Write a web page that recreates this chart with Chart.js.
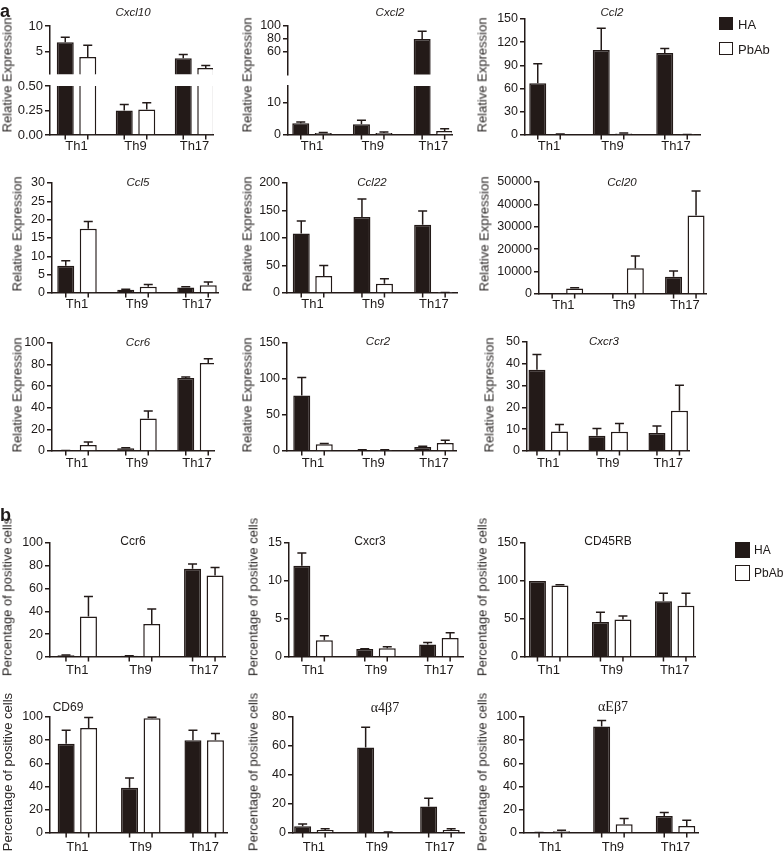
<!DOCTYPE html>
<html><head><meta charset="utf-8">
<script src="https://cdn.jsdelivr.net/npm/chart.js@4/dist/chart.umd.min.js"></script>
<style>
html,body{margin:0;padding:0;background:#fff;}
body{width:784px;height:855px;position:relative;overflow:hidden;font-family:"Liberation Sans",Arial,sans-serif;color:#1e1a19;}
.cv{position:absolute;}
.t{position:absolute;white-space:nowrap;line-height:1;transform:translate(-50%,-50%);}
.yt{position:absolute;white-space:nowrap;line-height:1;font-size:13px;color:#2b2726;transform:translate(-50%,-50%) rotate(-90deg);}
.lb{position:absolute;box-sizing:border-box;border:1.5px solid #231a18;}
.lt{position:absolute;white-space:nowrap;line-height:1;transform:translateY(-50%);}
.letter{position:absolute;font-weight:bold;font-size:18px;line-height:1;}
</style></head><body>
<script>
// ---------- data ----------
const categories = ['Th1', 'Th9', 'Th17'];
const seriesNames = ['HA', 'PbAb'];

const cxcl10HA = [6.8, 0.25, 3.65];
const cxcl10HAErr = [1.0, 0.06, 0.75];
const cxcl10PbAb = [3.9, 0.26, 1.7];
const cxcl10PbAbErr = [2.3, 0.07, 0.5];
const cxcl10TicksHigh = [5, 10];
const cxcl10TicksLow = [0, 0.25, 0.5];

const cxcl2HA = [3.6, 3.3, 80];
const cxcl2HAErr = [0.4, 1.2, 12];
const cxcl2PbAb = [0.6, 0.6, 1.2];
const cxcl2PbAbErr = [0.2, 0.3, 0.7];
const cxcl2TicksHigh = [60, 80, 100];
const cxcl2TicksLow = [0, 5, 10, 15];

const ccl2HA = [67, 110, 106];
const ccl2HAErr = [25, 28, 6];
const ccl2PbAb = [1, 2, 0.5];
const ccl2PbAbErr = [0.3, 0.5, 0.2];
const ccl2Ticks = [0, 30, 60, 90, 120, 150];

const ccl5HA = [7.4, 0.9, 1.5];
const ccl5HAErr = [1.4, 0.1, 0.2];
const ccl5PbAb = [17.5, 1.7, 2.1];
const ccl5PbAbErr = [2.0, 0.6, 0.9];
const ccl5Ticks = [0, 5, 10, 15, 20, 25, 30];

const ccl22HA = [108, 138, 124];
const ccl22HAErr = [23, 33, 25];
const ccl22PbAb = [31, 17, 0.6];
const ccl22PbAbErr = [19, 9, 0.3];
const ccl22Ticks = [0, 50, 100, 150, 200];

const ccl20HA = [40, 40, 7700];
const ccl20HAErr = [0, 0, 2600];
const ccl20PbAb = [2500, 11500, 35000];
const ccl20PbAbErr = [300, 5500, 11000];
const ccl20Ticks = [0, 10000, 20000, 30000, 40000, 50000];

const ccr6aHA = [0.3, 2.5, 67.5];
const ccr6aHAErr = [0.1, 0.5, 1];
const ccr6aPbAb = [5.5, 30, 81.5];
const ccr6aPbAbErr = [2.8, 7, 4];
const ccr6aTicks = [0, 20, 40, 60, 80, 100];

const ccr2HA = [77, 1.5, 5.5];
const ccr2HAErr = [25, 0.3, 1];
const ccr2PbAb = [9.5, 1.5, 11];
const ccr2PbAbErr = [1, 0.3, 4];
const ccr2Ticks = [0, 50, 100, 150];

const cxcr3aHA = [37.3, 7, 8.3];
const cxcr3aHAErr = [7, 3.3, 3.2];
const cxcr3aPbAb = [9, 8.8, 18.5];
const cxcr3aPbAbErr = [3.2, 3.8, 11.7];
const cxcr3aTicks = [0, 10, 20, 30, 40, 50];

const ccr6bHA = [1.5, 1, 77.5];
const ccr6bHAErr = [0.3, 0.2, 4];
const ccr6bPbAb = [35.5, 29, 71.5];
const ccr6bPbAbErr = [17.5, 13, 7];
const ccr6bTicks = [0, 20, 40, 60, 80, 100];

const cxcr3bHA = [12.0, 1.05, 1.65];
const cxcr3bHAErr = [1.7, 0.05, 0.25];
const cxcr3bPbAb = [2.2, 1.15, 2.5];
const cxcr3bPbAbErr = [0.6, 0.2, 0.7];
const cxcr3bTicks = [0, 5, 10, 15];

const cd45rbHA = [100, 46, 73.5];
const cd45rbHAErr = [0, 13, 10.5];
const cd45rbPbAb = [94, 49.5, 67.5];
const cd45rbPbAbErr = [1, 4.5, 16.5];
const cd45rbTicks = [0, 50, 100, 150];

const cd69HA = [77, 39, 80];
const cd69HAErr = [11.5, 8.5, 8.5];
const cd69PbAb = [90.5, 99, 80];
const cd69PbAbErr = [9, 0.8, 5.7];
const cd69Ticks = [0, 20, 40, 60, 80, 100];

const a4b7HA = [4.6, 59, 18.3];
const a4b7HAErr = [1.6, 14, 5.7];
const a4b7PbAb = [2, 0.5, 2];
const a4b7PbAbErr = [1, 0.2, 1];
const a4b7Ticks = [0, 20, 40, 60, 80];

const aEb7HA = [0.3, 91.8, 14.7];
const aEb7HAErr = [0.1, 5.2, 3];
const aEb7PbAb = [1.5, 7.5, 6];
const aEb7PbAbErr = [0.8, 5, 5];
const aEb7Ticks = [0, 20, 40, 60, 80, 100];

// ---------- layout / style ----------
const INK = '#231a18';
const TXT = '#1e1a19';
const SANS = "'Liberation Sans', Arial, sans-serif";
const SERIF = "'Liberation Serif', 'Times New Roman', serif";
const RE = 'Relative Expression';
const PP = 'Percentage of positive cells';

const panels = [
 {title:'Cxcl10', tf:'ai', tx:133, ty:13, yt:RE, ytx:7, yty:75, yfs:13, ha:cxcl10HA, haE:cxcl10HAErr, pb:cxcl10PbAb, pbE:cxcl10PbAbErr,
  axisX:50, c0:26.5, S:59, xEnd:213, lp:3.5,
  segs:[{top:26,bottom:76,min:0.5,max:10,ticks:cxcl10TicksHigh,dec:0,showX:false},
        {top:86,bottom:135,min:0,max:0.5,ticks:cxcl10TicksLow,dec:2,showX:true}]},
 {title:'Cxcl2', tf:'ai', tx:390, ty:13, yt:RE, ytx:247, yty:75, ha:cxcl2HA, haE:cxcl2HAErr, pb:cxcl2PbAb, pbE:cxcl2PbAbErr,
  axisX:288, c0:24, S:60.7, xEnd:452, lp:3.5,
  segs:[{top:26,bottom:76,min:25,max:100,ticks:cxcl2TicksHigh,dec:0,showX:false},
        {top:86,bottom:135,min:0,max:15,ticks:cxcl2TicksLow,dec:0,showX:true}]},
 {title:'Ccl2', tf:'ai', tx:612, ty:13, yt:RE, ytx:482, yty:75, ha:ccl2HA, haE:ccl2HAErr, pb:ccl2PbAb, pbE:ccl2PbAbErr,
  axisX:525, c0:24, S:63.5, xEnd:700, lp:3.5,
  segs:[{top:19,bottom:135,min:0,max:150,ticks:ccl2Ticks,dec:0,showX:true}]},

 {title:'Ccl5', tf:'ai', tx:138, ty:183, yt:RE, ytx:17, yty:234, ha:ccl5HA, haE:ccl5HAErr, pb:ccl5PbAb, pbE:ccl5PbAbErr,
  axisX:52, c0:25, S:60, xEnd:218, lp:4,
  segs:[{top:183,bottom:293,min:0,max:30,ticks:ccl5Ticks,dec:0,showX:true}]},
 {title:'Ccl22', tf:'ai', tx:372, ty:183, yt:RE, ytx:247, yty:234, ha:ccl22HA, haE:ccl22HAErr, pb:ccl22PbAb, pbE:ccl22PbAbErr,
  axisX:287, c0:25.5, S:60.7, xEnd:457, lp:4,
  segs:[{top:183,bottom:293,min:0,max:200,ticks:ccl22Ticks,dec:0,showX:true}]},
 {title:'Ccl20', tf:'ai', tx:622, ty:183, yt:RE, ytx:484, yty:234, ha:ccl20HA, haE:ccl20HAErr, pb:ccl20PbAb, pbE:ccl20PbAbErr,
  axisX:539, c0:24.4, S:60.7, xEnd:706, lp:4,
  segs:[{top:182,bottom:294,min:0,max:50000,ticks:ccl20Ticks,dec:0,showX:true}]},

 {title:'Ccr6', tf:'ai', tx:138, ty:343, yt:RE, ytx:17, yty:395, ha:ccr6aHA, haE:ccr6aHAErr, pb:ccr6aPbAb, pbE:ccr6aPbAbErr,
  axisX:52, c0:25, S:60, xEnd:214, lp:4.5,
  segs:[{top:343,bottom:451,min:0,max:100,ticks:ccr6aTicks,dec:0,showX:true}]},
 {title:'Ccr2', tf:'ai', tx:378, ty:342, yt:RE, ytx:247, yty:395, ha:ccr2HA, haE:ccr2HAErr, pb:ccr2PbAb, pbE:ccr2PbAbErr,
  axisX:287, c0:26, S:60.5, xEnd:456, lp:4.5,
  segs:[{top:343,bottom:451,min:0,max:150,ticks:ccr2Ticks,dec:0,showX:true}]},
 {title:'Cxcr3', tf:'ai', tx:604, ty:342, yt:RE, ytx:489, yty:395, ha:cxcr3aHA, haE:cxcr3aHAErr, pb:cxcr3aPbAb, pbE:cxcr3aPbAbErr,
  axisX:527, c0:21.2, S:60, xEnd:689, lp:4.5,
  segs:[{top:342,bottom:451,min:0,max:50,ticks:cxcr3aTicks,dec:0,showX:true}]},

 {title:'Ccr6', tf:'b', tx:133, ty:541, yt:PP, ytx:7, yty:597, ha:ccr6bHA, haE:ccr6bHAErr, pb:ccr6bPbAb, pbE:ccr6bPbAbErr,
  axisX:50, c0:27.2, S:63.3, xEnd:225, lp:5.5,
  segs:[{top:543,bottom:657,min:0,max:100,ticks:ccr6bTicks,dec:0,showX:true}]},
 {title:'Cxcr3', tf:'b', tx:370, ty:541, yt:PP, ytx:253, yty:597, ha:cxcr3bHA, haE:cxcr3bHAErr, pb:cxcr3bPbAb, pbE:cxcr3bPbAbErr,
  axisX:289, c0:24.1, S:62.9, xEnd:463, lp:5.5,
  segs:[{top:543,bottom:657,min:0,max:15,ticks:cxcr3bTicks,dec:0,showX:true}]},
 {title:'CD45RB', tf:'b', tx:608, ty:541, yt:PP, ytx:482, yty:597, ha:cd45rbHA, haE:cd45rbHAErr, pb:cd45rbPbAb, pbE:cd45rbPbAbErr,
  axisX:525, c0:23.7, S:63, xEnd:695, lp:5.5,
  segs:[{top:543,bottom:657,min:0,max:150,ticks:cd45rbTicks,dec:0,showX:true}]},

 {title:'CD69', tf:'b', tx:68, ty:707, yt:PP, ytx:7, yty:772, ha:cd69HA, haE:cd69HAErr, pb:cd69PbAb, pbE:cd69PbAbErr,
  axisX:50, c0:27.4, S:63.4, xEnd:227, lp:7,
  segs:[{top:717,bottom:833,min:0,max:100,ticks:cd69Ticks,dec:0,showX:true}]},
 {title:'\u03B14\u03B27', tf:'s', tx:385, ty:708, yt:PP, ytx:253, yty:772, ha:a4b7HA, haE:a4b7HAErr, pb:a4b7PbAb, pbE:a4b7PbAbErr,
  axisX:293, c0:20.9, S:63, xEnd:464, lp:7,
  segs:[{top:717,bottom:833,min:0,max:80,ticks:a4b7Ticks,dec:0,showX:true}]},
 {title:'\u03B1E\u03B27', tf:'s', tx:613, ty:707, yt:PP, ytx:482, yty:772, ha:aEb7HA, haE:aEb7HAErr, pb:aEb7PbAb, pbE:aEb7PbAbErr,
  axisX:524, c0:26.3, S:62.6, xEnd:698, lp:7,
  segs:[{top:717,bottom:833,min:0,max:100,ticks:aEb7Ticks,dec:0,showX:true}]}
];

// error bars and Prism-style tick marks under each bar
const prismPlugin = {
  id: 'prism',
  afterDatasetsDraw(chart, args, opts) {
    const ctx = chart.ctx, a = chart.chartArea, ys = chart.scales.y;
    ctx.save();
    ctx.beginPath();
    ctx.rect(a.left, a.top - 1, a.right - a.left, a.bottom - a.top + 1);
    ctx.clip();
    ctx.strokeStyle = INK; ctx.lineWidth = 1.5; ctx.lineCap = 'butt';
    chart.data.datasets.forEach((ds, di) => {
      const meta = chart.getDatasetMeta(di);
      meta.data.forEach((bar, i) => {
        const e = ds.errors[i];
        const pt = ds.data[i];
        if (!e || pt.y === null) return;
        const y1 = ys.getPixelForValue(pt.y + e);
        const y0 = ys.getPixelForValue(pt.y);
        ctx.beginPath();
        ctx.moveTo(bar.x, y0); ctx.lineTo(bar.x, y1);
        ctx.moveTo(bar.x - 4.5, y1); ctx.lineTo(bar.x + 4.5, y1);
        ctx.stroke();
      });
    });
    ctx.restore();
    if (opts && opts.showX) {
      ctx.save();
      ctx.strokeStyle = INK; ctx.lineWidth = 1.5;
      chart.data.datasets.forEach((ds, di) => {
        chart.getDatasetMeta(di).data.forEach(bar => {
          ctx.beginPath(); ctx.moveTo(bar.x, a.bottom); ctx.lineTo(bar.x, a.bottom + 4.5); ctx.stroke();
        });
      });
      ctx.restore();
    }
  }
};

function addText(cls, text, x, y, style) {
  const d = document.createElement('div');
  d.className = cls; d.textContent = text;
  d.style.left = x + 'px'; d.style.top = y + 'px';
  if (style) Object.assign(d.style, style);
  document.body.appendChild(d);
}

function makeChart(p, seg) {
  const yW = 50, padTop = 10, padRight = 12;
  const xH = seg.showX ? 24 : 0;
  const padBottom = seg.showX ? 0 : 8;
  const axisX = Math.round(p.axisX);
  const left = axisX - yW;
  const top = Math.round(seg.top) - padTop;
  const plotH = Math.round(seg.bottom) - Math.round(seg.top);
  const W = Math.round(p.xEnd) - axisX;
  const cw = yW + W + padRight;
  const ch = padTop + plotH + xH + padBottom;
  const cv = document.createElement('canvas');
  cv.className = 'cv';
  cv.width = cw; cv.height = ch;
  cv.style.left = left + 'px'; cv.style.top = top + 'px';
  cv.style.width = cw + 'px'; cv.style.height = ch + 'px';
  document.body.appendChild(cv);

  const xmin = -p.c0 / p.S;
  const xmax = xmin + W / p.S;
  const catPct = 45 / p.S;
  const barPct = 17 / 22.5;
  // values below the segment's floor (broken axis) are simply not shown in that segment
  const mk = (vals, errs, fill, name) => ({
    label: name,
    data: vals.map((v, i) => ({x: i, y: v < seg.min ? null : v})),
    errors: errs,
    backgroundColor: fill, borderColor: INK, borderWidth: 1.5,
    borderSkipped: 'start', categoryPercentage: catPct, barPercentage: barPct, clip: 0
  });

  new Chart(cv, {
    type: 'bar',
    data: {datasets: [mk(p.ha, p.haE, INK, seriesNames[0]), mk(p.pb, p.pbE, '#ffffff', seriesNames[1])]},
    plugins: [prismPlugin],
    options: {
      responsive: false, animation: false, devicePixelRatio: 1,
      layout: {padding: {top: padTop, left: 0, right: padRight, bottom: padBottom}},
      plugins: {legend: {display: false}, tooltip: {enabled: false}, title: {display: false}, prism: {showX: seg.showX}},
      scales: {
        x: {
          type: 'linear', min: xmin, max: xmax, offset: false, display: seg.showX,
          grid: {display: false, drawTicks: false},
          border: {display: true, color: INK, width: 1.5},
          afterBuildTicks: s => { s.ticks = categories.map((c, i) => ({value: i})); },
          afterFit: s => { s.height = xH; },
          ticks: {color: TXT, font: {family: SANS, size: 13}, padding: p.lp, autoSkip: false, maxRotation: 0,
                  callback: v => categories[Math.round(v)] || ''}
        },
        y: {
          type: 'linear', min: seg.min, max: seg.max,
          afterBuildTicks: s => { s.ticks = seg.ticks.map(v => ({value: v})); },
          afterFit: s => { s.width = yW; },
          border: {display: true, color: INK, width: 1.5},
          grid: {display: true, drawOnChartArea: false, drawTicks: true, tickLength: 5, color: INK, lineWidth: 1.5},
          ticks: {color: TXT, font: {family: SANS, size: p.yfs || 12.5}, padding: 2, callback: v => Number(v).toFixed(seg.dec)}
        }
      }
    }
  });
}

panels.forEach(p => {
  p.segs.forEach(seg => makeChart(p, seg));
  let st;
  if (p.tf === 'ai') st = {fontSize: '11.5px', fontStyle: 'italic'};
  else if (p.tf === 's') st = {fontSize: '14px', fontFamily: SERIF};
  else st = {fontSize: '12px'};
  addText('t', p.title, p.tx, p.ty, st);
  addText('yt', p.yt, p.ytx, p.yty);
});

// panel letters
addText('letter', 'a', 0, 2);
addText('letter', 'b', 0, 506);

// legends
function legend(x, y1, y2, w, h, tx, fs) {
  [[y1, INK, seriesNames[0]], [y2, '#ffffff', seriesNames[1]]].forEach(([y, fill, name]) => {
    const b = document.createElement('div');
    b.className = 'lb';
    Object.assign(b.style, {left: x + 'px', top: y + 'px', width: w + 'px', height: h + 'px', background: fill});
    document.body.appendChild(b);
    addText('lt', name, tx, y + h / 2, {fontSize: fs + 'px'});
  });
}
legend(719, 17, 42, 14, 13, 738, 13);
legend(735, 542, 565, 15, 16, 754, 12);
</script>
</body></html>
